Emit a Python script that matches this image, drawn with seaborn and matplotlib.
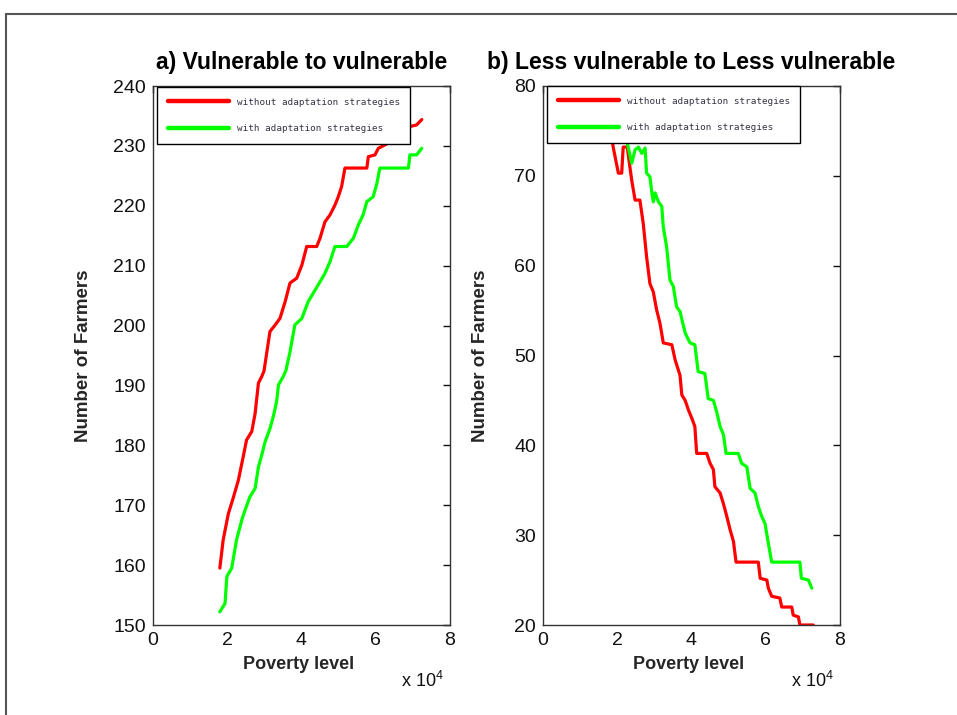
import numpy as np
import pandas as pd
import matplotlib
matplotlib.use("Agg")
import matplotlib.pyplot as plt
from matplotlib import font_manager
from matplotlib.lines import Line2D
import seaborn as sns

# Panel a) Vulnerable to vulnerable (x in units of 1e4)
a_red_x = [1.80, 1.89, 2.03, 2.16, 2.30, 2.43, 2.52, 2.66, 2.75, 2.84, 2.93, 2.99,
           3.15, 3.29, 3.42, 3.56, 3.69, 3.87, 4.01, 4.14, 4.41, 4.50, 4.63, 4.77,
           4.90, 4.99, 5.08, 5.17, 5.76, 5.80, 5.98, 6.07, 6.35, 6.65, 6.90, 7.10, 7.24]
a_red_y = [159.5, 164.2, 168.6, 171.2, 174.2, 178.1, 180.9, 182.3, 185.3, 190.4, 191.5, 192.4,
           199.0, 200.1, 201.2, 204.0, 207.1, 207.9, 210.1, 213.2, 213.2, 214.6, 217.3, 218.5,
           220.1, 221.5, 223.2, 226.3, 226.3, 228.2, 228.5, 229.6, 230.5, 231.8, 233.2, 233.5, 234.4]
a_green_x = [1.80, 1.94, 1.99, 2.12, 2.25, 2.39, 2.48, 2.61, 2.75, 2.84, 2.93, 3.02, 3.15,
             3.24, 3.33, 3.38, 3.51, 3.58, 3.69, 3.82, 4.01, 4.18, 4.45, 4.63, 4.77, 4.90,
             5.22, 5.40, 5.53, 5.66, 5.76, 5.93, 6.03, 6.11, 6.88, 6.92, 7.10, 7.24]
a_green_y = [152.2, 153.6, 158.1, 159.5, 164.2, 167.5, 169.2, 171.4, 172.8, 176.4, 178.4, 180.6, 182.8,
             184.8, 187.3, 190.1, 191.5, 192.5, 195.6, 200.1, 201.2, 204.0, 206.8, 208.7, 210.7, 213.2,
             213.2, 214.6, 216.8, 218.5, 220.7, 221.5, 223.7, 226.3, 226.3, 228.5, 228.5, 229.6]

# Panel b) Less vulnerable to Less vulnerable
b_red_x = [1.80, 1.89, 2.03, 2.12, 2.16, 2.27, 2.34, 2.39, 2.48, 2.61, 2.70, 2.79, 2.88,
           2.97, 3.06, 3.15, 3.24, 3.47, 3.56, 3.69, 3.74, 3.83, 3.92, 4.01, 4.09, 4.14,
           4.41, 4.50, 4.59, 4.63, 4.77, 4.86, 4.95, 5.04, 5.13, 5.20, 5.80, 5.85, 6.03,
           6.07, 6.16, 6.38, 6.43, 6.70, 6.74, 6.88, 6.92, 7.28]
b_red_y = [76.0, 73.2, 70.3, 70.3, 73.2, 73.2, 71.0, 69.5, 67.3, 67.3, 64.7, 61.0, 58.0,
           57.1, 55.1, 53.6, 51.4, 51.2, 49.5, 47.8, 45.6, 45.0, 43.9, 43.0, 42.1, 39.1,
           39.1, 38.0, 37.3, 35.4, 34.7, 33.5, 32.1, 30.6, 29.3, 27.0, 27.0, 25.2, 25.0,
           24.1, 23.2, 23.0, 22.0, 22.0, 21.1, 20.9, 20.0, 20.0]
b_green_x = [1.80, 2.20, 2.39, 2.48, 2.57, 2.66, 2.75, 2.79, 2.88, 2.93, 2.97, 3.02, 3.11,
             3.20, 3.24, 3.33, 3.42, 3.51, 3.60, 3.69, 3.83, 3.96, 4.09, 4.18, 4.36, 4.45,
             4.59, 4.68, 4.77, 4.86, 4.93, 5.26, 5.35, 5.49, 5.58, 5.71, 5.80, 5.89, 5.98,
             6.07, 6.16, 6.92, 6.96, 7.15, 7.24]
b_green_y = [79.0, 75.0, 71.4, 72.9, 73.2, 72.5, 73.1, 70.3, 69.9, 68.2, 67.1, 68.1, 67.1,
             66.6, 64.3, 62.1, 58.4, 57.7, 55.4, 54.9, 52.5, 51.4, 51.2, 48.2, 48.0, 45.2,
             45.0, 43.7, 42.1, 41.2, 39.1, 39.1, 38.0, 37.6, 35.2, 34.7, 33.2, 32.1, 31.3,
             29.1, 27.0, 27.0, 25.2, 25.0, 24.1]

labels = ["without adaptation strategies", "with adaptation strategies"]
titles = ["a) Vulnerable to vulnerable", "b) Less vulnerable to Less vulnerable"]
y_limits = [(150, 240), (20, 80)]
y_steps = [10, 10]

sns.set_theme(style="white")
installed = {f.name for f in font_manager.fontManager.ttflist}
narrow = "Liberation Sans Narrow" if "Liberation Sans Narrow" in installed else "Liberation Sans"
plt.rcParams["font.family"] = [narrow, "DejaVu Sans"]
plt.rcParams["mathtext.fontset"] = "custom"
plt.rcParams["mathtext.rm"] = narrow

def make_frame(rx, ry, gx, gy):
    red = pd.DataFrame({"poverty": rx, "farmers": ry, "series": labels[0]})
    green = pd.DataFrame({"poverty": gx, "farmers": gy, "series": labels[1]})
    return pd.concat([red, green], ignore_index=True)

frames = [make_frame(a_red_x, a_red_y, a_green_x, a_green_y),
          make_frame(b_red_x, b_red_y, b_green_x, b_green_y)]

fig = plt.figure(figsize=(9.57, 7.15), dpi=100)
fig.patch.set_facecolor("white")
ax_pos = [[153 / 957, 90 / 715, 297 / 957, 539 / 715],
          [543 / 957, 90 / 715, 297 / 957, 539 / 715]]
legend_left = [(157 - 153) / 297, (547 - 543) / 297]
legend_top = [1 - 1 / 539, 1.0]

for i in range(2):
    ax = fig.add_axes(ax_pos[i])
    sns.lineplot(data=frames[i], x="poverty", y="farmers", hue="series",
                 palette={labels[0]: "#ff0000", labels[1]: "#00ff00"},
                 estimator=None, sort=False, linewidth=2.3, ax=ax)
    ax.set_xlim(0, 8)
    ax.set_ylim(*y_limits[i])
    ax.set_xticks(np.arange(0, 9, 2))
    ax.set_yticks(np.arange(y_limits[i][0], y_limits[i][1] + 1, y_steps[i]))
    ax.tick_params(direction="in", top=True, right=True, length=5, width=1,
                   labelsize=14, colors="#111111", pad=5)
    for sp in ax.spines.values():
        sp.set_color("#333333")
        sp.set_linewidth(1.0)

    ax.set_title(titles[i], fontsize=16.5, fontweight="bold", pad=12, color="black")
    ax.set_xlabel("Poverty level", fontsize=13, fontweight="bold")
    ax.set_ylabel("Number of Farmers", fontsize=13.5, fontweight="bold")
    ax.xaxis.set_label_coords(0.49, -0.058)
    ax.yaxis.set_label_coords(-0.205 if i == 0 else -0.183, 0.5)
    ax.text(0.835, -0.085, r"x $\mathregular{10^{4}}$", transform=ax.transAxes,
            fontsize=13, ha="left", va="top", color="#111111")

    leg = ax.legend(loc="upper left", bbox_to_anchor=(legend_left[i], legend_top[i]),
                    borderaxespad=0, frameon=True, fancybox=False,
                    prop={"family": "DejaVu Sans Mono", "size": 6.7},
                    handlelength=6.6, handletextpad=0.8, labelspacing=1.85,
                    borderpad=1.15)
    leg.get_frame().set_edgecolor("black")
    leg.get_frame().set_linewidth(1.0)
    leg.get_frame().set_alpha(1.0)
    for t in leg.get_texts():
        t.set_color("#333344")
    for h in leg.get_lines():
        h.set_linewidth(3.2)

# screenshot frame border (top and left)
fig.add_artist(Line2D([6 / 957, 1.0], [1 - 14 / 715, 1 - 14 / 715],
                      transform=fig.transFigure, color="#555555", lw=1.5))
fig.add_artist(Line2D([6 / 957, 6 / 957], [0.0, 1 - 14 / 715],
                      transform=fig.transFigure, color="#555555", lw=1.5))

fig.savefig("out.png", dpi=100)
